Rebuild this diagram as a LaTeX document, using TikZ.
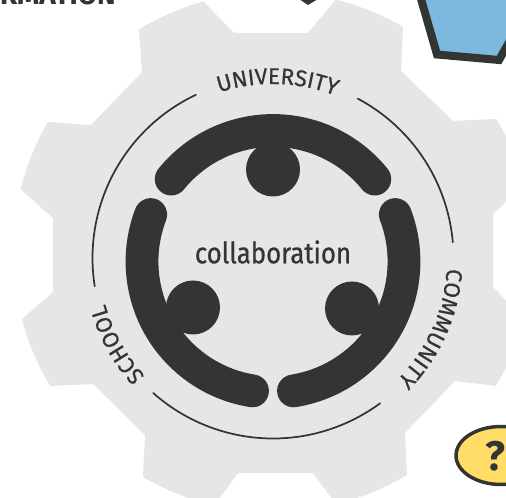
\documentclass[tikz,border=0pt]{standalone}
\usepackage{fontspec}
\usetikzlibrary{decorations.text}
\setmainfont{Fira Sans}
\newfontfamily\labelfont[FakeStretch=0.88,FakeBold=0.7]{Fira Sans}
\newfontfamily\arcfont[LetterSpace=10,FakeBold=0.4]{Fira Sans}
\definecolor{ink}{HTML}{333534}
\definecolor{gearfill}{HTML}{E5E6E8}
\definecolor{bluefill}{HTML}{7DB8DF}
\definecolor{yellowfill}{HTML}{FFDD66}
\tikzset{
  x=0.75pt,y=-0.75pt,
  ringline/.style={draw=ink,line width=1.3pt,line cap=round},
  band/.style={draw=ink,line width=24.6pt,line cap=round},
  hub/.style={fill=ink,draw=none},
  tip/.style={samples=12},
  sweep/.style={samples=60,smooth},
}
\begin{document}
\begin{tikzpicture}
\clip (0,0) rectangle (506,498);
\fill[white] (0,0) rectangle (506,498);
% gear
\fill[gearfill] (139,29)
  -- plot[tip,domain=-121:-105.5] ({273+260*cos(\x)},{252+260*sin(\x)})
  -- (234,33) -- (308,33)
  -- plot[tip,domain=-76:-60] ({273+260*cos(\x)},{252+260*sin(\x)})
  -- (401,71) -- (453,121) -- (496,119)
  -- plot[tip,domain=-31:-15] ({273+260*cos(\x)},{252+260*sin(\x)})
  -- (493,214) -- (493,287)
  -- plot[tip,domain=15:31] ({273+260*cos(\x)},{252+260*sin(\x)})
  -- (455,381) -- (405,433) -- (407,477)
  -- plot[tip,domain=59:76] ({273+260*cos(\x)},{252+260*sin(\x)})
  -- (313,473) -- (238,473)
  -- plot[tip,domain=103:120] ({273+260*cos(\x)},{252+260*sin(\x)})
  -- (145,435) -- (93,384)
  -- plot[tip,domain=149:165] ({273+260*cos(\x)},{252+260*sin(\x)})
  -- (53,292) -- (53,218)
  -- plot[tip,domain=194:210] ({273+260*cos(\x)},{252+260*sin(\x)})
  -- (91,125) -- (142,72) -- cycle;
% thin ring
\draw[ringline] plot[sweep,domain=-62:-5] ({273+180.5*cos(\x)},{258+180.5*sin(\x)});
\draw[ringline] plot[sweep,domain=53.6:131.6] ({273+180.5*cos(\x)},{258+180.5*sin(\x)});
\draw[ringline] plot[sweep,domain=171:244.7] ({273+180.5*cos(\x)},{258+180.5*sin(\x)});
% bands
\draw[band] plot[sweep,domain=-141:-39] ({273+131*cos(\x)},{261.5+131*sin(\x)});
\draw[band] plot[sweep,domain=-21:81] ({273+131*cos(\x)},{261.5+131*sin(\x)});
\draw[band] plot[sweep,domain=99:201] ({273+131*cos(\x)},{261.5+131*sin(\x)});
% hubs
\fill[hub] (273,169.5) circle (27);
\fill[hub] (193,307.5) circle (27);
\fill[hub] (352,308.5) circle (27);
% labels
\node[text=ink,font=\labelfont\fontsize{22pt}{24pt}\selectfont] (collab) at (273,252) {collaboration};
\path[decorate,decoration={text along path,text align=center,text={|\arcfont\fontsize{17pt}{19pt}\selectfont\color{ink}|UNIVERSITY}}] ({273+174*cos(-125)},{258+174*sin(-125)}) arc[start angle=125,end angle=52,radius=130.5pt];
\path[decorate,decoration={text along path,text align=center,text={|\arcfont\fontsize{17pt}{19pt}\selectfont\color{ink}|COMMUNITY}}] ({273+174*cos(-15)},{258+174*sin(-15)}) arc[start angle=15,end angle=-63,radius=130.5pt];
\path[decorate,decoration={text along path,text align=center,text={|\arcfont\fontsize{17pt}{19pt}\selectfont\color{ink}|SCHOOL}}] ({273+174*cos(111)},{258+174*sin(111)}) arc[start angle=-111,end angle=-191,radius=130.5pt];
% cropped neighbours
\node[anchor=base east,text=ink,font=\bfseries\fontsize{21pt}{23pt}\selectfont,inner sep=0pt] (info) at (116,5) {RMATION};
\fill[ink] (299,-1) -- (308,5) -- (318,-1) -- cycle;
\draw[ink,line width=6pt,fill=bluefill,line join=miter] (419,-8) -- (437,54.5) -- (499,60) -- (516,30) -- (516,-8) -- cycle;
\draw[ink,line width=2.6pt,fill=yellowfill] (501,455.5) ellipse (45 and 29);
\node[text=ink,font=\bfseries\fontsize{31pt}{33pt}\selectfont,inner sep=0pt] (q) at (495,456) {?};
\end{tikzpicture}
\end{document}
